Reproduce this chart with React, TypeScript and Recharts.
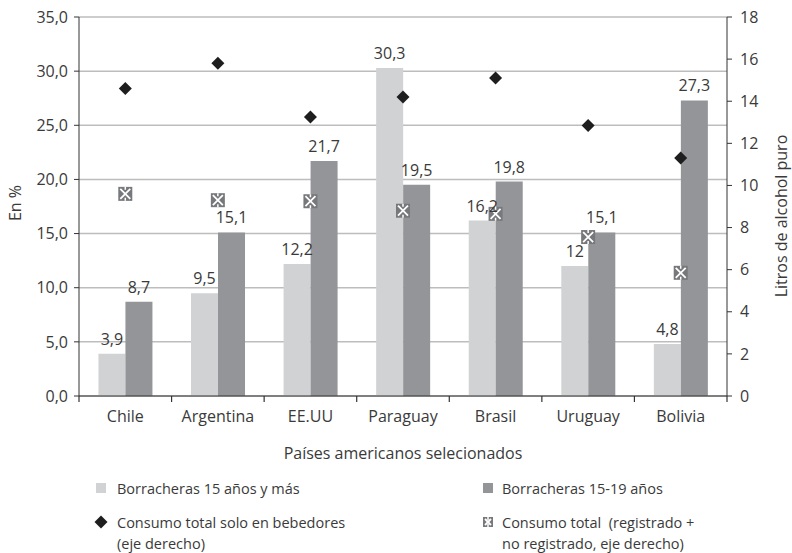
import React from 'react';
import { ComposedChart, Bar, Line, XAxis, YAxis, CartesianGrid, LabelList } from 'recharts';

const categories = ['Chile', 'Argentina', 'EE.UU', 'Paraguay', 'Brasil', 'Uruguay', 'Bolivia'];
const borracheras15mas = [3.9, 9.5, 12.2, 30.3, 16.2, 12, 4.8];
const borracheras1519 = [8.7, 15.1, 21.7, 19.5, 19.8, 15.1, 27.3];
const consumoBebedores = [14.6, 15.8, 13.25, 14.2, 15.1, 12.85, 11.3];
const consumoTotal = [9.6, 9.3, 9.25, 8.8, 8.65, 7.55, 5.85];
const leftTicks = [0, 5, 10, 15, 20, 25, 30, 35];
const rightTicks = [0, 2, 4, 6, 8, 10, 12, 14, 16, 18];

const data = categories.map((c, i) => ({
  cat: c,
  b15: borracheras15mas[i],
  b1519: borracheras1519[i],
  cb: consumoBebedores[i],
  ct: consumoTotal[i],
}));

const CHART_W = 792;
const CHART_H = 553;
const MARGIN = { top: 17, right: 0, left: 19, bottom: 156 };
const LEFT_AXIS_W = 60;
const RIGHT_AXIS_W = 65;
const PLOT_W = CHART_W - MARGIN.left - MARGIN.right - LEFT_AXIS_W - RIGHT_AXIS_W;
const BAND = PLOT_W / categories.length;
const TICK_MARGIN = 12;

const FONT = "'Open Sans', sans-serif";
const TXT = '#3a3a3a';
const LIGHT = '#d1d2d4';
const DARK = '#939598';
const AXIS = '#333';

const fmt1 = (v: number) => v.toFixed(1).replace('.', ',');
const fmtLabel = (v: any) => String(v).replace('.', ',');

const CatTick = (props: any) => {
  const { x, y, payload, index } = props;
  const axisY = y - TICK_MARGIN;
  const half = BAND / 2;
  const isLast = index === categories.length - 1;
  return (
    <g>
      <line x1={x - half} x2={x - half} y1={axisY} y2={axisY + 6} stroke={AXIS} strokeWidth={1.2} />
      {isLast && <line x1={x + half} x2={x + half} y1={axisY} y2={axisY + 6} stroke={AXIS} strokeWidth={1.2} />}
      <text x={x} y={y} textAnchor="middle" dominantBaseline="hanging" fill={TXT} fontSize={16} fontFamily={FONT}>
        {payload.value}
      </text>
    </g>
  );
};

const Diamond = (props: any) => {
  const { cx, cy } = props;
  if (cx == null || cy == null) return null;
  const r = 6.5;
  return <path d={`M${cx},${cy - r}L${cx + r},${cy}L${cx},${cy + r}L${cx - r},${cy}Z`} fill="#1e1e1e" />;
};

const XMark = (props: any) => {
  const { cx, cy, size = 14 } = props;
  if (cx == null || cy == null) return null;
  const h = size / 2;
  const k = h - 2;
  return (
    <g>
      <rect x={cx - h} y={cy - h} width={size} height={size} fill="#77787b" />
      <path d={`M${cx - k},${cy - k}L${cx + k},${cy + k}M${cx + k},${cy - k}L${cx - k},${cy + k}`} stroke="#fff" strokeWidth={1.8} />
      <path d={`M${cx},${cy - h}L${cx},${cy - h + 3}M${cx},${cy + h}L${cx},${cy + h - 3}`} stroke="#fff" strokeWidth={1.5} />
    </g>
  );
};

export default function App() {
  const tickStyle = { fill: TXT, fontSize: 16, fontFamily: FONT };
  return (
    <div style={{ position: 'absolute', left: 0, top: 0, width: CHART_W, height: CHART_H, background: '#fff' }}>
      <ComposedChart
        width={CHART_W}
        height={CHART_H}
        data={data}
        margin={MARGIN}
        barGap={0}
        barCategoryGap="21%"
      >
        <CartesianGrid vertical={false} stroke="#bdbdbd" strokeWidth={1.5} yAxisId="left" />
        <XAxis
          dataKey="cat"
          height={1}
          axisLine={{ stroke: AXIS }}
          tickLine={false}
          tickSize={0}
          tickMargin={TICK_MARGIN}
          tick={<CatTick />}
          interval={0}
        />
        <YAxis
          yAxisId="left"
          width={LEFT_AXIS_W}
          domain={[0, 35]}
          ticks={leftTicks}
          tickFormatter={fmt1}
          tick={tickStyle}
          tickSize={5}
          tickMargin={6}
          axisLine={{ stroke: AXIS }}
          tickLine={{ stroke: AXIS }}
        />
        <YAxis
          yAxisId="right"
          orientation="right"
          width={RIGHT_AXIS_W}
          domain={[0, 18]}
          ticks={rightTicks}
          tick={tickStyle}
          tickSize={5}
          tickMargin={8}
          axisLine={{ stroke: AXIS }}
          tickLine={{ stroke: AXIS }}
        />
        <Bar yAxisId="left" dataKey="b15" fill={LIGHT} isAnimationActive={false}>
          <LabelList dataKey="b15" position="top" offset={9} formatter={fmtLabel} style={{ fill: TXT, fontSize: 16, fontFamily: FONT }} />
        </Bar>
        <Bar yAxisId="left" dataKey="b1519" fill={DARK} isAnimationActive={false}>
          <LabelList dataKey="b1519" position="top" offset={9} formatter={fmtLabel} style={{ fill: TXT, fontSize: 16, fontFamily: FONT }} />
        </Bar>
        <Line yAxisId="right" dataKey="cb" stroke="none" dot={<Diamond />} activeDot={false} isAnimationActive={false} />
        <Line yAxisId="right" dataKey="ct" stroke="none" dot={<XMark />} activeDot={false} isAnimationActive={false} />
      </ComposedChart>
      <svg width={CHART_W} height={CHART_H} style={{ position: 'absolute', left: 0, top: 0, pointerEvents: 'none' }}>
        <g fontFamily={FONT} fill={TXT} fontSize={16}>
          <text x={15} y={203} transform="rotate(-90 15 203)" textAnchor="middle" dominantBaseline="central">En %</text>
          <text x={781} y={216} transform="rotate(-90 781 216)" textAnchor="middle" dominantBaseline="central">Litros de alcohol puro</text>
          <text x={403} y={453} textAnchor="middle" dominantBaseline="central">Países americanos selecionados</text>
          <rect x={96} y={483} width={10} height={10} fill={LIGHT} />
          <text x={117} y={488} dominantBaseline="central" fontSize={14.5}>Borracheras 15 años y más</text>
          <rect x={483} y={483} width={10} height={10} fill={DARK} />
          <text x={502} y={488} dominantBaseline="central" fontSize={14.5}>Borracheras 15-19 años</text>
          <Diamond cx={101} cy={522} />
          <text x={117} y={522} dominantBaseline="central" fontSize={14.5}>Consumo total solo en bebedores</text>
          <text x={117} y={543} dominantBaseline="central" fontSize={14.5}>(eje derecho)</text>
          <XMark cx={488} cy={522} size={10} />
          <text x={502} y={522} dominantBaseline="central" fontSize={14.5} xmlSpace="preserve">Consumo total  (registrado +</text>
          <text x={502} y={543} dominantBaseline="central" fontSize={14.5}>no registrado, eje derecho)</text>
        </g>
      </svg>
    </div>
  );
}
